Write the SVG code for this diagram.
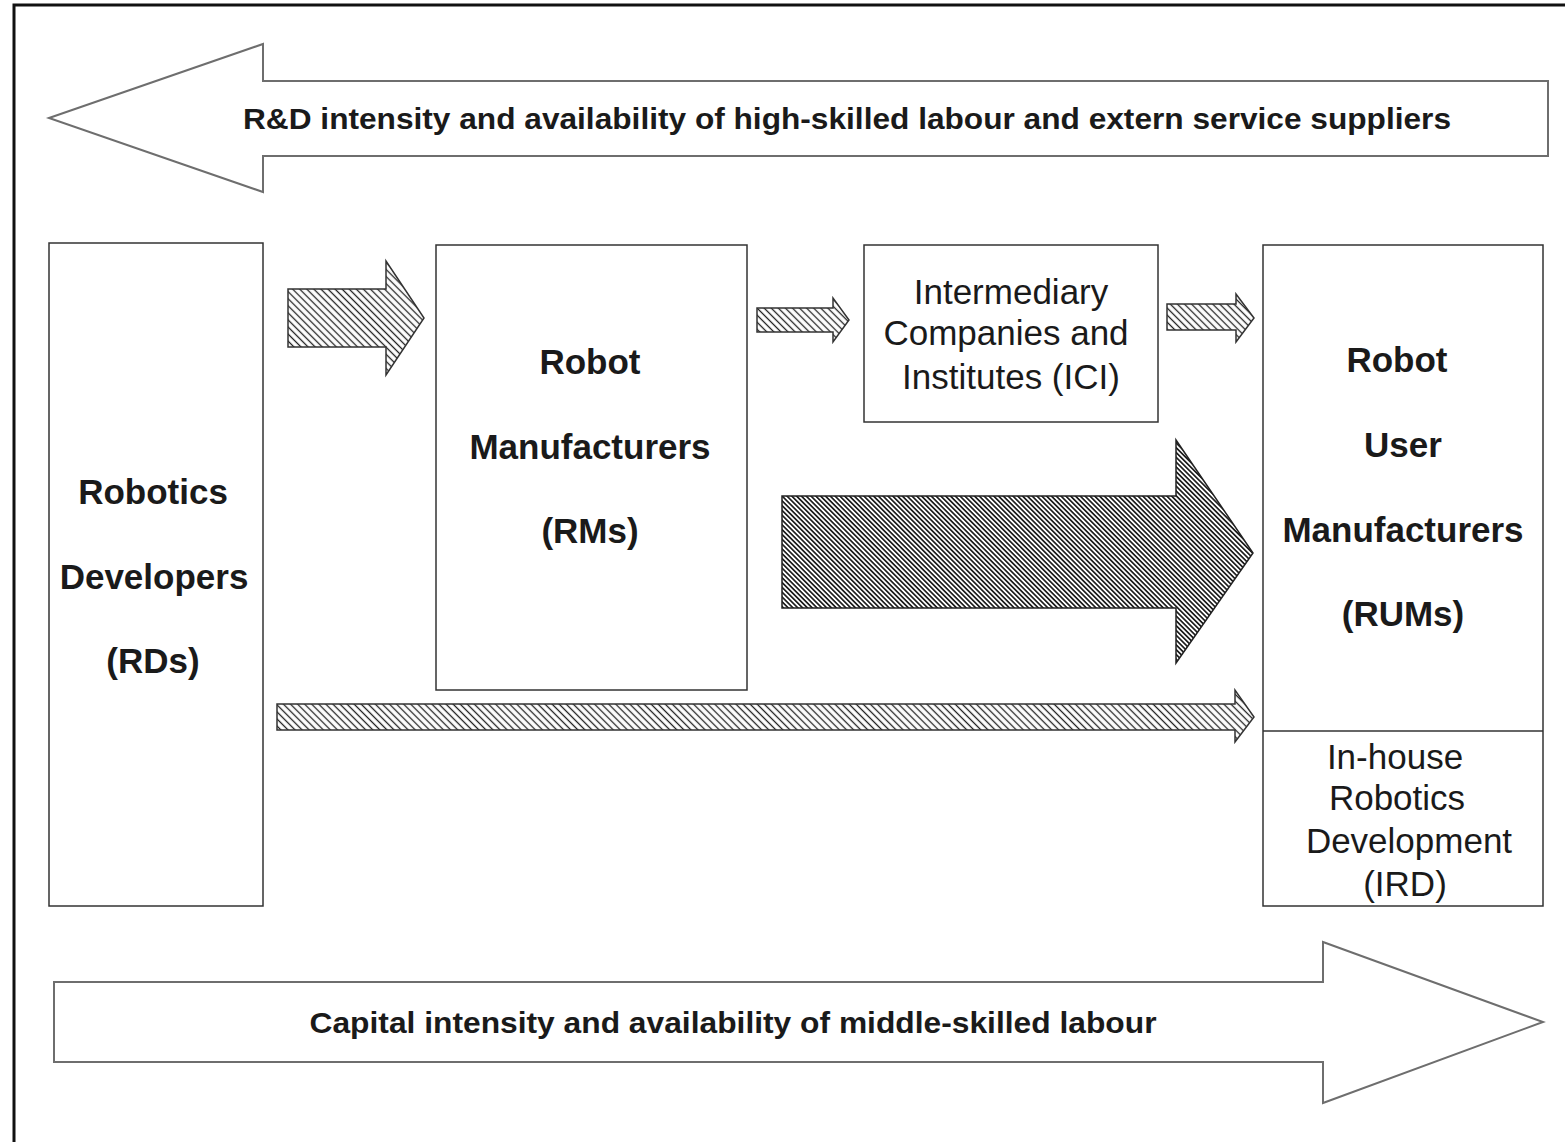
<svg xmlns="http://www.w3.org/2000/svg" width="1565" height="1142" viewBox="0 0 1565 1142">
<style>
.frame{fill:none;stroke:#111;stroke-width:3}
.big{fill:#fff;stroke:#6e6e6e;stroke-width:2}
.box{fill:#fff;stroke:#333;stroke-width:1.5}
.b{font-family:"Liberation Sans",Arial,sans-serif;font-weight:bold;font-size:35px;fill:#1a1a1a;text-anchor:middle}
.r{font-family:"Liberation Sans",Arial,sans-serif;font-size:35px;fill:#1a1a1a;text-anchor:middle}
.lab{font-family:"Liberation Sans",Arial,sans-serif;font-weight:bold;font-size:30px;fill:#1a1a1a;text-anchor:middle}
.h{fill:url(#hatch);stroke:#333;stroke-width:1.5}
.hd{fill:url(#hatchD);stroke:#222;stroke-width:1.5}
</style>
<defs>
<pattern id="hatch" width="5" height="5" patternUnits="userSpaceOnUse" patternTransform="rotate(45)">
<rect width="5" height="5" fill="#fff"/>
<line x1="0" y1="2.5" x2="5" y2="2.5" stroke="#222" stroke-width="1.3"/>
</pattern>
<pattern id="hatchD" width="3.4" height="3.4" patternUnits="userSpaceOnUse" patternTransform="rotate(45)">
<rect width="3.4" height="3.4" fill="#fff"/>
<line x1="0" y1="1.7" x2="3.4" y2="1.7" stroke="#111" stroke-width="1.6"/>
</pattern>
</defs>
<rect width="1565" height="1142" fill="#fff"/>
<rect class="frame" x="14" y="5" width="1600" height="1200"/>

<g id="top-arrow">
<polygon class="big" points="49,118 263,44 263,81 1548,81 1548,156 263,156 263,192"/>
<text class="lab" x="847" y="129" textLength="1208" lengthAdjust="spacingAndGlyphs">R&amp;D intensity and availability of high-skilled labour and extern service suppliers</text>
</g>
<g id="bottom-arrow">
<polygon class="big" points="54,982 1323,982 1323,942 1543,1022 1323,1103 1323,1062 54,1062"/>
<text class="lab" x="733" y="1033" textLength="847" lengthAdjust="spacingAndGlyphs">Capital intensity and availability of middle-skilled labour</text>
</g>

<g id="rds">
<rect class="box" x="49" y="243" width="214" height="663"/>
<text class="b" x="153" y="504">Robotics</text>
<text class="b" x="154" y="589">Developers</text>
<text class="b" x="153" y="673">(RDs)</text>
</g>
<g id="rms">
<rect class="box" x="436" y="245" width="311" height="445"/>
<text class="b" x="590" y="374">Robot</text>
<text class="b" x="590" y="459">Manufacturers</text>
<text class="b" x="590" y="543">(RMs)</text>
</g>
<g id="ici">
<rect class="box" x="864" y="245" width="294" height="177"/>
<text class="r" x="1011" y="304">Intermediary</text>
<text class="r" x="1006" y="345">Companies  and</text>
<text class="r" x="1011" y="389">Institutes (ICI)</text>
</g>
<g id="rums">
<rect class="box" x="1263" y="245" width="280" height="661"/>
<line class="box" x1="1263" y1="731" x2="1543" y2="731"/>
<text class="b" x="1397" y="372">Robot</text>
<text class="b" x="1403" y="457">User</text>
<text class="b" x="1403" y="542">Manufacturers</text>
<text class="b" x="1403" y="626">(RUMs)</text>
<text class="r" x="1395" y="769">In-house</text>
<text class="r" x="1397" y="810">Robotics</text>
<text class="r" x="1409" y="853">Development</text>
<text class="r" x="1405" y="896">(IRD)</text>
</g>

<g id="connectors">
<polygon class="h" points="288,289 386,289 386,261 424,318 386,375 386,347 288,347"/>
<polygon class="h" points="757,308 833,308 833,298 849,320 833,342 833,332 757,332"/>
<polygon class="h" points="1167,304 1236,304 1236,294 1254,318 1236,342 1236,330 1167,330"/>
<polygon class="hd" points="782,496 1176,496 1176,440 1253,553 1176,663 1176,608 782,608"/>
<polygon class="h" points="277,704 1235,704 1235,690 1254,717 1235,742 1235,730 277,730"/>
</g>
</svg>
